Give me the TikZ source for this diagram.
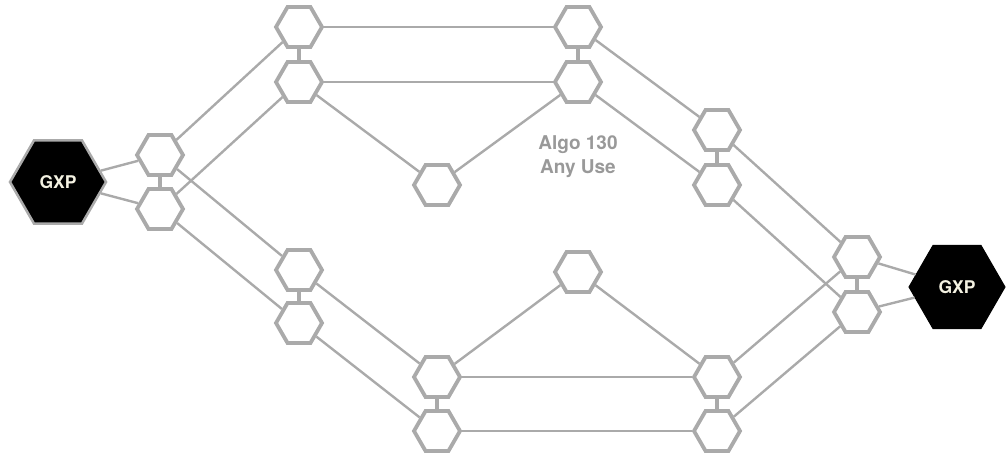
\documentclass[tikz,border=0pt]{standalone}
\usepackage{fontspec}
\setmainfont{TeX Gyre Heros}
\usetikzlibrary{shapes.geometric}
\definecolor{hexgrey}{HTML}{AAAAAA}
\definecolor{labelgrey}{HTML}{999999}
\definecolor{gxptext}{HTML}{F4F2E2}
\begin{document}
\begin{tikzpicture}[x=1pt,y=-1pt,
  hexnode/.style={regular polygon, regular polygon sides=6,
    minimum size=46pt, inner sep=0pt, draw=hexgrey, line width=3.8pt, fill=white},
  gxp/.style={regular polygon, regular polygon sides=6,
    minimum size=96pt, inner sep=0pt, fill=black, text=gxptext,
    font=\bfseries\fontsize{17.5}{19}\selectfont},
  link/.style={draw=hexgrey, line width=2.4pt},
  rung/.style={draw=hexgrey, line width=3.8pt}]
\useasboundingbox (0,0) rectangle (1006,457);

% end points
\node[gxp, draw=hexgrey, line width=2.5pt] (gl) at (58,182) {GXP};
\node[gxp, draw=black, line width=1pt] (gr) at (957,287) {GXP};

% left pair
\node[hexnode] (a1) at (160,155) {};
\node[hexnode] (a2) at (160,209) {};
% upper branch
\node[hexnode] (t1) at (299,27) {};
\node[hexnode] (t2) at (299,82) {};
\node[hexnode] (t3) at (578,27) {};
\node[hexnode] (t4) at (578,82) {};
\node[hexnode] (m)  at (437,185) {};
\node[hexnode] (r1) at (717,130) {};
\node[hexnode] (r2) at (717,185) {};
% right pair
\node[hexnode] (p1) at (857,257) {};
\node[hexnode] (p2) at (857,312) {};
% lower branch
\node[hexnode] (l1) at (299,270) {};
\node[hexnode] (l2) at (299,323) {};
\node[hexnode] (c)  at (578,272) {};
\node[hexnode] (b1) at (437,377) {};
\node[hexnode] (b2) at (437,431) {};
\node[hexnode] (b3) at (717,377) {};
\node[hexnode] (b4) at (717,431) {};

% label
\node[text=labelgrey, font=\bfseries\fontsize{19}{24}\selectfont, align=center]
  (lbl) at (578,157) {Algo 130\\Any Use};

% connections
\draw[link] (gl) -- (a1);
\draw[link] (gl) -- (a2);
\draw[link] (a1) -- (t1);
\draw[link] (a2) -- (t2);
\draw[link] (a1) -- (l1);
\draw[link] (a2) -- (l2);
\draw[link] (t1) -- (t3);
\draw[link] (t2) -- (t4);
\draw[link] (t2) -- (m);
\draw[link] (t4) -- (m);
\draw[link] (t3) -- (r1);
\draw[link] (t4) -- (r2);
\draw[link] (r1) -- (p1);
\draw[link] (r2) -- (p2);
\draw[link] (p1) -- (gr);
\draw[link] (p2) -- (gr);
\draw[link] (p1) -- (b3);
\draw[link] (p2) -- (b4);
\draw[link] (l1) -- (b1);
\draw[link] (l2) -- (b2);
\draw[link] (b1) -- (b3);
\draw[link] (b2) -- (b4);
\draw[link] (b1) -- (c);
\draw[link] (c) -- (b3);

% short links inside each pair
\draw[rung] (a1) -- (a2);
\draw[rung] (t1) -- (t2);
\draw[rung] (t3) -- (t4);
\draw[rung] (r1) -- (r2);
\draw[rung] (p1) -- (p2);
\draw[rung] (l1) -- (l2);
\draw[rung] (b1) -- (b2);
\draw[rung] (b3) -- (b4);
\end{tikzpicture}
\end{document}
